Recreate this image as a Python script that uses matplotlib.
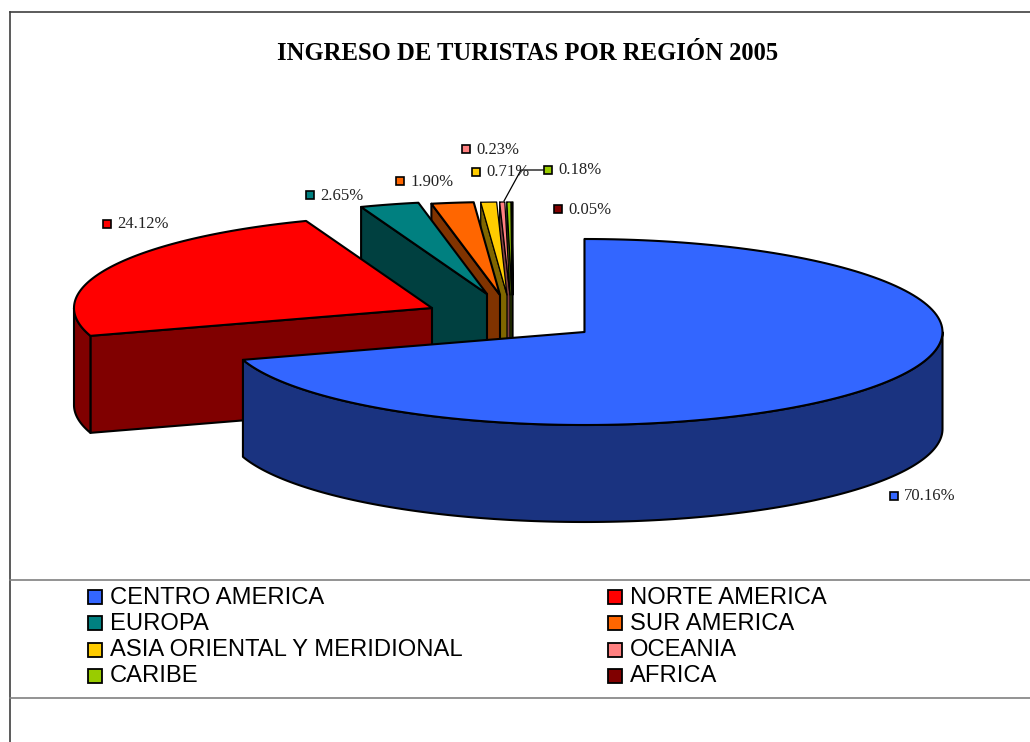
import matplotlib; matplotlib.use('Agg')
import matplotlib.pyplot as plt, numpy as np
from matplotlib.patches import Polygon, Rectangle

regions = ['CENTRO AMERICA', 'NORTE AMERICA', 'EUROPA', 'SUR AMERICA',
           'ASIA ORIENTAL Y MERIDIONAL', 'OCEANIA', 'CARIBE', 'AFRICA']
shares = [70.16, 24.12, 2.65, 1.90, 0.71, 0.23, 0.18, 0.05]
title = 'INGRESO DE TURISTAS POR REGIÓN 2005'

tops = ['#3366FF', '#FF0000', '#008080', '#FF6600', '#FFCC00', '#FF8080', '#99CC00', '#800000']
sides = ['#1A3380', '#800000', '#004040', '#803300', '#806600', '#804040', '#4D6600', '#400000']

# layout in image pixels
RX, RY, DEPTH = 358, 93, 97
apex = [(584.5, 332), (432, 308), (487, 294), (500, 295), (507, 295), (510, 295), (512, 295), (513, 295)]
label_pos = [(894, 496), (107, 224), (310, 195), (400, 181), (476, 172), (466, 149), (548, 170), (558, 209)]
legend_x = [88, 608]
legend_y = [597, 623, 650, 676]

fig = plt.figure(figsize=(10.3, 7.42), dpi=100)
ax = fig.add_axes([0, 0, 1, 1])
ax.set_xlim(0, 1030)
ax.set_ylim(742, 0)
ax.axis('off')

# frame and legend rules
ax.plot([10, 10], [12, 742], color='#404040', lw=1.2)
ax.plot([10, 1030], [12, 12], color='#404040', lw=1.2)
for yy in [579.5, 697.5]:
    ax.plot([10, 1030], [yy, yy], color='#808080', lw=1.2)


def rim(ang, cx, cy):
    return np.column_stack([cx + RX * np.sin(ang), cy - RY * np.cos(ang)])


angles = np.radians(np.concatenate([[0], np.cumsum(shares)]) * 3.6)

# paint back to front, smallest slices first
for i in range(len(shares) - 1, -1, -1):
    kw = dict(edgecolor='black', lw=1.5 if shares[i] > 1 else 0.9, joinstyle='round')
    a0, a1 = angles[i], angles[i + 1]
    cx, cy = apex[i]
    arc = rim(np.linspace(a0, a1, 160), cx, cy)
    # start cut face
    p0 = arc[0]
    ax.add_patch(Polygon([p0, (cx, cy), (cx, cy + DEPTH), (p0[0], p0[1] + DEPTH)],
                         facecolor=sides[i], **kw))
    # outer wall, only the part facing the viewer
    lo, hi = max(a0, np.pi / 2), min(a1, 3 * np.pi / 2)
    if hi > lo:
        wall = rim(np.linspace(lo, hi, 160), cx, cy)
        ax.add_patch(Polygon(np.vstack([wall, wall[::-1] + [0, DEPTH]]), facecolor=sides[i], **kw))
    ax.add_patch(Polygon(np.vstack([[(cx, cy)], arc]), facecolor=tops[i], **kw))

# leader line of the caribe label
ax.plot([504, 521, 543], [201, 170, 170], color='black', lw=0.9, zorder=3)

ax.text(527.5, 53, title, ha='center', va='center', fontsize=17.7, fontweight='bold',
        family='Liberation Serif', color='black')

for (x, y), v, c in zip(label_pos, shares, tops):
    ax.add_patch(Rectangle((x - 4, y - 4), 8, 8, facecolor=c, edgecolor='black', lw=1.2, zorder=4))
    ax.text(x + 10, y + 0.5, f'{v:.2f}%', ha='left', va='center', fontsize=12,
            family='Liberation Serif', color='#222222', zorder=4)

for i, name in enumerate(regions):
    x = legend_x[i % 2]
    y = legend_y[i // 2]
    ax.add_patch(Rectangle((x, y - 7), 14, 14, facecolor=tops[i], edgecolor='black', lw=1.3))
    ax.text(x + 22, y + 0.5, name, ha='left', va='center', fontsize=17.1,
            family='Liberation Sans', color='black')

fig.savefig('out.png', dpi=100)
plt.close(fig)
